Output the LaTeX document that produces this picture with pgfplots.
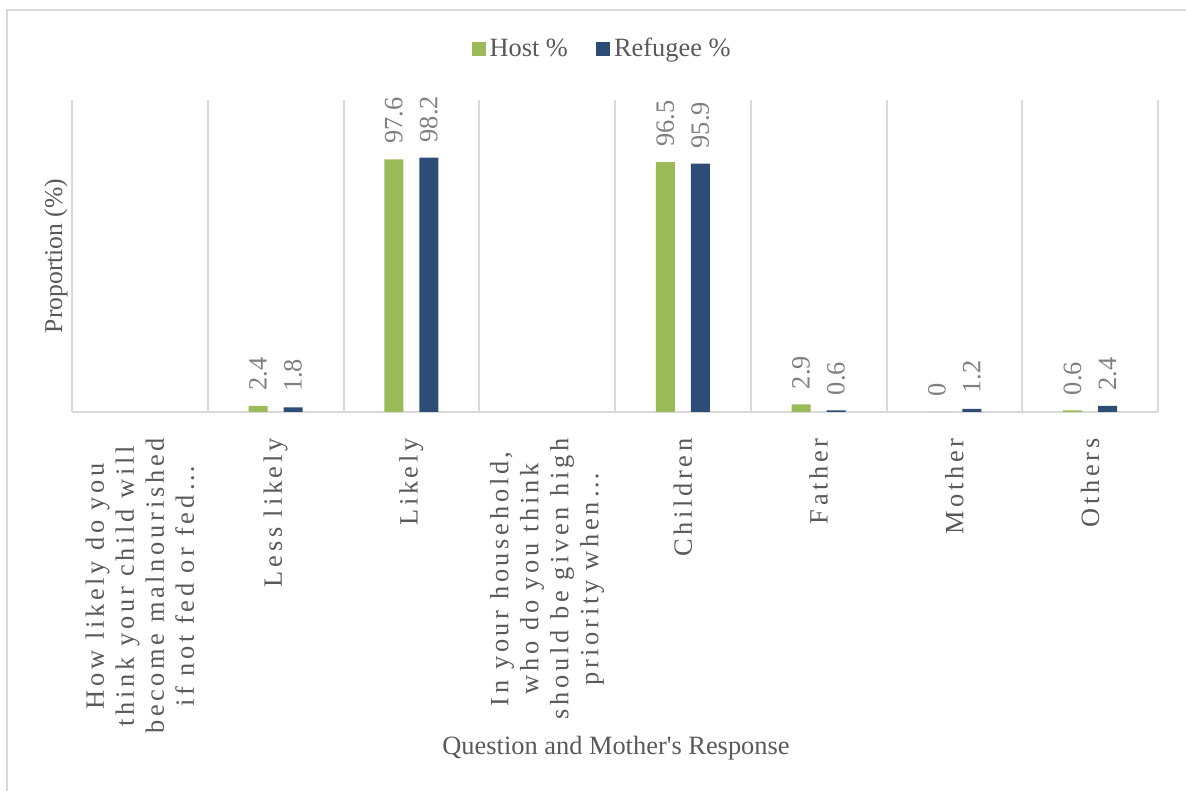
\documentclass[border=0pt]{standalone}
\usepackage{fontspec}
\setmainfont{Liberation Serif}
\usepackage{pgfplots}
\pgfplotsset{compat=1.18}
\definecolor{hostc}{HTML}{9BBB59}
\definecolor{refc}{HTML}{2C4D75}
\definecolor{gridc}{HTML}{D9D9D9}
\definecolor{txt}{HTML}{595959}
\definecolor{vtxt}{HTML}{7F7F7F}
\newcommand\ticklabfont{\fontsize{13.2}{15}\selectfont\addfontfeature{LetterSpace=14}\spaceskip=0.4em\relax}
\newcommand\mainfont{\fontsize{13.2}{15}\selectfont}
\pgfplotsset{sqlegend/.style={legend image code/.code={\fill[##1] (0pt,-3.5pt) rectangle (7pt,3.5pt);}}}
\begin{document}
\begin{tikzpicture}
\useasboundingbox (0pt,0pt) rectangle (593pt,395.5pt);
\draw[gridc, line width=1pt] (3.5pt,0pt) -- (3.5pt,390.5pt) -- (593pt,390.5pt);
\begin{axis}[
  at={(36pt,189.5pt)}, anchor=south west,
  scale only axis, width=543pt, height=156pt,
  xmin=-0.5, xmax=7.5, ymin=0, ymax=120.5,
  axis x line*=bottom, axis y line=none,
  x axis line style={gridc, line width=1pt, -},
  xtick={0,...,7}, major tick length=0pt, minor tick length=0pt,
  minor xtick={-0.5,0.5,...,7.5}, xminorgrids,
  minor grid style={gridc, line width=1pt},
  xticklabels={{How likely do you\\think your child will\\become malnourished\\if not fed or fed…}, {Less likely}, {Likely}, {In your household,\\who do you think\\should be given high\\priority when…}, {Children}, {Father}, {Mother}, {Others}},
  xticklabel style={rotate=90, anchor=east, align=center, text=txt, font=\ticklabfont, inner xsep=13pt},
  /pgf/number format/assume math mode=true,
  nodes near coords,
  nodes near coords style={rotate=90, anchor=west, inner xsep=7.5pt, text=vtxt, font=\mainfont},
  clip=false,
  legend columns=2,
  legend style={at={(0.489,1.163)}, anchor=center, draw=none, fill=none, font=\mainfont, text=txt,
    /tikz/every even column/.append style={column sep=12pt}},
]
% bars placed at category position -/+ 0.129 (half the distance between the paired bars)
\addplot[ybar, bar width=9.5pt, bar shift=0pt, fill=hostc, draw=none, sqlegend]
  coordinates {(0.871,2.4) (1.871,97.6) (3.871,96.5) (4.871,2.9) (5.871,0) (6.871,0.6)};
\addplot[ybar, bar width=9.5pt, bar shift=0pt, fill=refc, draw=none, sqlegend]
  coordinates {(1.129,1.8) (2.129,98.2) (4.129,95.9) (5.129,0.6) (6.129,1.2) (7.129,2.4)};
\legend{Host \%, Refugee \%}
\end{axis}
\node[text=txt, font=\fontsize{12.8}{15}\selectfont, rotate=90] at (28pt,267.5pt) {Proportion (\%)};
\node[text=txt, font=\mainfont] at (308pt,21.5pt) {Question and Mother\textquotesingle s Response};
\end{tikzpicture}
\end{document}
